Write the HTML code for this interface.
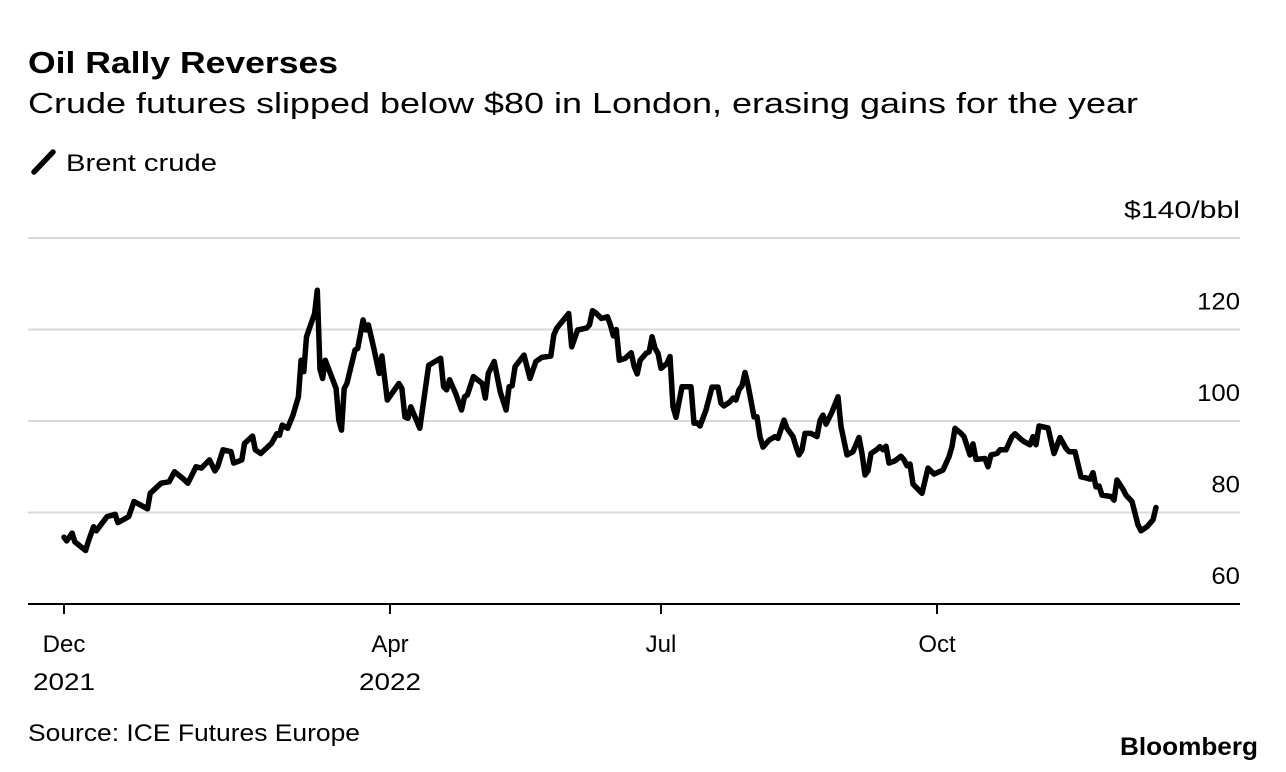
<!DOCTYPE html>
<html><head><meta charset="utf-8"><style>
html,body{margin:0;padding:0;background:#fff;width:1286px;height:772px;overflow:hidden;font-family:"Liberation Sans",Arial,sans-serif;color:#000}
</style></head><body>
<svg width="1286" height="772" viewBox="0 0 1286 772" style="position:absolute;left:0;top:0">
<text x="28" y="73" font-size="31" font-weight="bold" textLength="310" lengthAdjust="spacingAndGlyphs">Oil Rally Reverses</text>
<text x="28" y="113" font-size="29" textLength="1110" lengthAdjust="spacingAndGlyphs">Crude futures slipped below $80 in London, erasing gains for the year</text>
<line x1="34" y1="172" x2="53" y2="152" stroke="#000" stroke-width="5.5" stroke-linecap="round"/>
<text x="66" y="171" font-size="24" textLength="151" lengthAdjust="spacingAndGlyphs">Brent crude</text>
<g id="grid"></g>
<g id="xaxis"></g>
<path id="line" fill="none" stroke="#000" stroke-width="5.5" stroke-linejoin="round" stroke-linecap="round"/>
<text x="28" y="741" font-size="24" textLength="332" lengthAdjust="spacingAndGlyphs">Source: ICE Futures Europe</text>
<text x="1258" y="755" font-size="25" font-weight="bold" text-anchor="end" textLength="138" lengthAdjust="spacingAndGlyphs">Bloomberg</text>
</svg>
<script>
const yTicks=[60,80,100,120,140];
const yTickLabels=["60","80","100","120","$140/bbl"];
const xTickDays=[0,121,212,304];
const xTickMonth=["Dec","Apr","Jul","Oct"];
const xTickYear=["2021","2022","",""];
const days=[0,1,3,4,8,9,11,12,16,19,20,24,26,31,32,34,36,39,41,44,46,49,51,54,56,57,59,62,63,66,67,70,71,73,77,79,80,81,83,85,87,88,89,90,93,94,95,96,97,101,102,103,104,105,108,109,111,112,113,115,117,118,120,124,125,126,127,128,131,134,138,139,140,141,143,145,146,147,149,152,153,154,156,158,160,161,162,163,166,168,170,172,175,176,177,181,182,184,187,188,189,190,192,194,195,196,197,198,200,202,203,204,205,207,208,209,210,211,212,214,215,216,217,219,222,223,224,225,227,229,231,232,233,235,236,237,238,239,240,241,243,244,245,246,248,250,251,253,254,256,257,258,259,260,262,264,265,266,267,269,271,272,274,276,278,279,280,281,282,284,285,286,287,288,290,292,293,294,295,296,299,301,303,306,308,309,310,312,313,315,316,317,320,321,322,324,325,327,329,330,332,333,335,336,337,338,341,343,345,347,348,350,352,354,355,356,357,358,359,362,363,364,366,367,369,371,372,374,376,377];
const prices=[74.6,73.8,75.5,73.6,71.7,73.6,76.9,76.0,79.1,79.6,77.8,79.1,82.4,80.8,84.2,85.3,86.4,86.7,88.9,87.5,86.4,90.0,89.7,91.5,89.1,90.0,93.7,93.3,90.8,91.5,95.1,96.7,93.7,92.9,95.1,97.2,96.9,99.1,98.4,101.3,105.3,113.3,110.8,118.4,123.5,128.6,111.3,109.3,113.3,107.1,100.2,98.0,107.1,108.2,115.5,115.9,122.1,119.9,121.0,115.9,110.4,114.2,104.6,108.2,107.1,100.9,100.6,103.1,98.4,112.2,113.7,107.5,106.8,109.0,106.1,102.4,105.3,105.7,109.7,108.2,105.0,110.4,113.0,106.4,102.4,107.5,107.7,111.9,114.4,109.3,113.0,113.9,114.2,118.8,120.3,123.5,116.2,119.9,120.3,121.0,124.1,123.7,122.4,122.8,121.0,118.6,120.0,113.3,113.7,114.9,111.9,110.3,113.3,114.8,115.1,118.4,115.9,114.8,111.5,112.6,114.1,103.1,100.8,107.5,107.5,99.5,99.6,98.9,102.4,107.4,107.4,103.9,103.3,104.2,105.0,104.6,106.8,107.7,110.6,107.9,100.9,100.9,96.6,94.3,95.8,96.6,96.2,100.2,98.4,96.6,94.4,92.6,93.7,97.3,97.3,96.6,100.1,101.3,99.3,102.0,105.3,98.8,92.6,93.3,96.4,92.9,88.2,89.1,92.9,93.8,94.4,93.7,94.5,90.8,91.3,92.3,91.5,90.2,90.6,86.2,84.2,89.7,88.4,89.3,92.2,94.4,98.4,97.3,96.6,92.6,95.0,91.6,91.8,90.0,92.6,92.9,93.7,93.7,96.6,97.2,96.0,95.5,94.8,96.6,94.8,98.9,98.5,92.9,96.4,94.0,93.3,93.3,87.8,87.5,87.3,88.7,85.6,85.8,83.8,83.5,82.7,87.1,85.1,83.8,82.4,77.3,76.0,76.9,78.4,81.1];

const NS="http://www.w3.org/2000/svg";
const tickPx=[64,390,661,937];
function xScale(d){
  let i=0;
  while(i<xTickDays.length-2 && d>xTickDays[i+1]) i++;
  const d0=xTickDays[i],d1=xTickDays[i+1],p0=tickPx[i],p1=tickPx[i+1];
  return p0+(d-d0)*(p1-p0)/(d1-d0);
}
function yScale(v){return 604-(v-60)*4.575;}
const grid=document.getElementById('grid');
yTicks.forEach((t,i)=>{
  const y=yScale(t);
  if(i>0){
    const l=document.createElementNS(NS,'line');
    l.setAttribute('x1',28);l.setAttribute('x2',1240);l.setAttribute('y1',y);l.setAttribute('y2',y);
    l.setAttribute('stroke','#d9d9d9');l.setAttribute('stroke-width','2');
    
    
    grid.appendChild(l);
  }
  const tx=document.createElementNS(NS,'text');
  tx.setAttribute('x',1240);tx.setAttribute('y',y-20);tx.setAttribute('text-anchor','end');tx.setAttribute('font-size','24');
  tx.setAttribute('textLength', String(yTickLabels[i].length*(i===4?14.5:14.3)));
  tx.setAttribute('lengthAdjust','spacingAndGlyphs');
  tx.textContent=yTickLabels[i];
  
  
  grid.appendChild(tx);
});
const xa=document.getElementById('xaxis');
const ax=document.createElementNS(NS,'line');
ax.setAttribute('x1',28);ax.setAttribute('x2',1240);ax.setAttribute('y1',604);ax.setAttribute('y2',604);
ax.setAttribute('stroke','#000');ax.setAttribute('stroke-width','2');


xa.appendChild(ax);
xTickDays.forEach((d,i)=>{
  const x=xScale(d);
  const t=document.createElementNS(NS,'line');
  t.setAttribute('x1',x);t.setAttribute('x2',x);t.setAttribute('y1',604);t.setAttribute('y2',614);
  t.setAttribute('stroke','#000');t.setAttribute('stroke-width','2');
  
  
  xa.appendChild(t);
  const m=document.createElementNS(NS,'text');
  m.setAttribute('x',x);m.setAttribute('y',652);m.setAttribute('text-anchor','middle');m.setAttribute('font-size','24');
  m.textContent=xTickMonth[i];
  
  
  xa.appendChild(m);
  if(xTickYear[i]){
    const yy=document.createElementNS(NS,'text');
    yy.setAttribute('x',x);yy.setAttribute('y',690);yy.setAttribute('text-anchor','middle');yy.setAttribute('font-size','24');
    yy.setAttribute('textLength','62');yy.setAttribute('lengthAdjust','spacingAndGlyphs');
    yy.textContent=xTickYear[i];
    
    
    xa.appendChild(yy);
  }
});
document.getElementById('line').setAttribute('d',days.map((d,i)=>(i?'L':'M')+xScale(d).toFixed(1)+','+yScale(prices[i]).toFixed(1)).join(''));
</script>
</body></html>
